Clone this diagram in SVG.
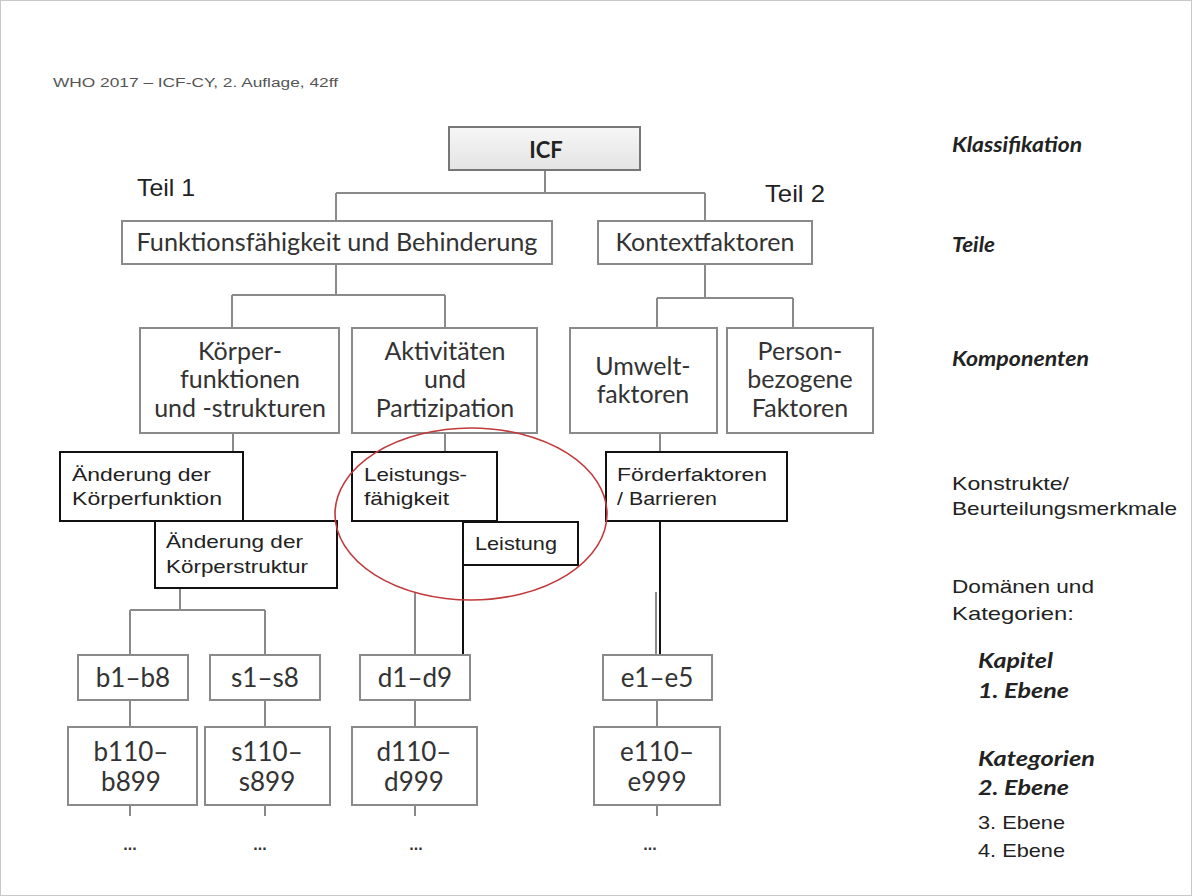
<svg xmlns="http://www.w3.org/2000/svg" width="1192" height="896" viewBox="0 0 1192 896">
  <defs>
    <linearGradient id="icfFill" x1="0" y1="0" x2="0" y2="1">
      <stop offset="0" stop-color="#f6f6f6"/>
      <stop offset="1" stop-color="#e4e4e4"/>
    </linearGradient>
    <style>
      .box { fill: #ffffff; stroke: #8a8a8a; stroke-width: 2; }
      .cbox { fill: #ffffff; stroke: #111111; stroke-width: 2; }
      .line { fill: none; stroke: #8a8a8a; stroke-width: 2; }
      .bline { fill: none; stroke: #111111; stroke-width: 2; }
      .lbl { font-family: Lato, "Open Sans", sans-serif; font-size: 25px; fill: #333333; text-anchor: middle; }
      .code { font-family: Lato, "Open Sans", sans-serif; font-size: 26px; fill: #333333; text-anchor: middle; }
      .ar { font-family: "Liberation Sans", Arial, sans-serif; font-size: 19px; fill: #222222; }
      .side { font-family: Lato, "Open Sans", sans-serif; font-size: 20px; font-weight: bold; font-style: italic; fill: #222222; }
      .teil { font-family: "Liberation Sans", Arial, sans-serif; font-size: 24px; fill: #222222; }
      .dots { font-family: "Liberation Sans", Arial, sans-serif; font-size: 16px; font-weight: bold; fill: #333333; text-anchor: middle; }
    </style>
  </defs>

  <rect x="0" y="0" width="1192" height="896" fill="#ffffff"/>
  <rect x="0.5" y="0.5" width="1191" height="895" fill="none" stroke="#c8c8c8" stroke-width="1"/>

  <text x="53" y="87" font-family="Liberation Sans, Arial, sans-serif" font-size="12" fill="#555555" textLength="285" lengthAdjust="spacingAndGlyphs">WHO 2017 – ICF-CY, 2. Auflage, 42ff</text>

  <!-- connectors -->
  <g id="connectors">
    <path class="line" d="M545 170 V193 M336 193 H705 M336 193 V221 M705 193 V221"/>
    <path class="line" d="M336 264 V295 M232 295 H445 M232 295 V328 M445 295 V328"/>
    <path class="line" d="M705 264 V298 M657 298 H793 M657 298 V328 M793 298 V328"/>
    <path class="line" d="M233 433 V452 M445 433 V452 M660 433 V452"/>
    <path class="line" d="M180 588 V610 M130 610 H265 M130 610 V655 M265 610 V655"/>
    <path class="line" d="M415 592 V655 M656 592 V655"/>
    <path class="bline" d="M463 521 V655 M660 521 V655"/>
    <path class="line" d="M130 700 V727 M265 700 V727 M415 700 V727 M657 700 V727"/>
    <path class="line" d="M130 805 V816 M265 805 V816 M415 805 V816 M657 805 V816"/>
  </g>

  <!-- classification -->
  <g id="icf">
    <rect x="449" y="127" width="191" height="43" fill="url(#icfFill)" stroke="#777777" stroke-width="2"/>
    <text x="546" y="158" font-family="Lato, 'Open Sans', sans-serif" font-size="22" font-weight="bold" fill="#222222" text-anchor="middle">ICF</text>
  </g>

  <text class="teil" x="137" y="196" textLength="58" lengthAdjust="spacingAndGlyphs">Teil 1</text>
  <text class="teil" x="765" y="202" textLength="60" lengthAdjust="spacingAndGlyphs">Teil 2</text>

  <!-- parts -->
  <g id="funktionsfaehigkeit">
    <rect class="box" x="122" y="221" width="430" height="43"/>
    <text class="lbl" x="337" y="251" textLength="401" lengthAdjust="spacingAndGlyphs">Funktionsfähigkeit und Behinderung</text>
  </g>
  <g id="kontextfaktoren">
    <rect class="box" x="598" y="221" width="214" height="43"/>
    <text class="lbl" x="705" y="251">Kontextfaktoren</text>
  </g>

  <!-- components -->
  <g id="koerper">
    <rect class="box" x="140" y="328" width="199" height="105"/>
    <text class="lbl" x="240" y="360">Körper-</text>
    <text class="lbl" x="240" y="388">funktionen</text>
    <text class="lbl" x="240" y="417">und -strukturen</text>
  </g>
  <g id="aktivitaeten">
    <rect class="box" x="352" y="328" width="185" height="105"/>
    <text class="lbl" x="445" y="360">Aktivitäten</text>
    <text class="lbl" x="445" y="388">und</text>
    <text class="lbl" x="445" y="417">Partizipation</text>
  </g>
  <g id="umwelt">
    <rect class="box" x="570" y="328" width="147" height="105"/>
    <text class="lbl" x="643" y="375">Umwelt-</text>
    <text class="lbl" x="643" y="403">faktoren</text>
  </g>
  <g id="person">
    <rect class="box" x="727" y="328" width="146" height="105"/>
    <text class="lbl" x="800" y="360">Person-</text>
    <text class="lbl" x="800" y="388">bezogene</text>
    <text class="lbl" x="800" y="417">Faktoren</text>
  </g>

  <!-- constructs -->
  <g id="aenderung-funktion">
    <rect class="cbox" x="60" y="452" width="183" height="69"/>
    <text class="ar" x="72" y="481" textLength="139" lengthAdjust="spacingAndGlyphs">Änderung der</text>
    <text class="ar" x="72" y="505" textLength="150" lengthAdjust="spacingAndGlyphs">Körperfunktion</text>
  </g>
  <g id="aenderung-struktur">
    <rect class="cbox" x="155" y="521" width="182" height="67"/>
    <text class="ar" x="166" y="548" textLength="137" lengthAdjust="spacingAndGlyphs">Änderung der</text>
    <text class="ar" x="166" y="573" textLength="142" lengthAdjust="spacingAndGlyphs">Körperstruktur</text>
  </g>
  <g id="leistungsfaehigkeit">
    <rect class="cbox" x="352" y="452" width="145" height="69"/>
    <text class="ar" x="364" y="481" textLength="103" lengthAdjust="spacingAndGlyphs">Leistungs-</text>
    <text class="ar" x="364" y="505" textLength="85" lengthAdjust="spacingAndGlyphs">fähigkeit</text>
  </g>
  <g id="leistung">
    <rect class="cbox" x="463" y="522" width="115" height="43"/>
    <text class="ar" x="475" y="550" textLength="82" lengthAdjust="spacingAndGlyphs">Leistung</text>
  </g>
  <g id="foerderfaktoren">
    <rect class="cbox" x="606" y="452" width="181" height="69"/>
    <text class="ar" x="617" y="481" textLength="150" lengthAdjust="spacingAndGlyphs">Förderfaktoren</text>
    <text class="ar" x="617" y="505" textLength="100" lengthAdjust="spacingAndGlyphs">/ Barrieren</text>
  </g>

  <ellipse cx="471" cy="514" rx="136" ry="86" fill="none" stroke="#c0393b" stroke-width="1.6"/>

  <!-- chapters -->
  <g id="b1-b8">
    <rect class="box" x="78" y="655" width="110" height="45"/>
    <text class="code" x="133" y="687">b1–b8</text>
  </g>
  <g id="s1-s8">
    <rect class="box" x="210" y="655" width="110" height="45"/>
    <text class="code" x="265" y="687">s1–s8</text>
  </g>
  <g id="d1-d9">
    <rect class="box" x="360" y="655" width="110" height="45"/>
    <text class="code" x="415" y="687">d1–d9</text>
  </g>
  <g id="e1-e5">
    <rect class="box" x="603" y="655" width="109" height="45"/>
    <text class="code" x="657" y="687">e1–e5</text>
  </g>

  <!-- second-level categories -->
  <g id="b110-b899">
    <rect class="box" x="68" y="727" width="129" height="78"/>
    <text class="code" x="131" y="761">b110–</text>
    <text class="code" x="131" y="791">b899</text>
  </g>
  <g id="s110-s899">
    <rect class="box" x="205" y="727" width="125" height="78"/>
    <text class="code" x="267" y="761">s110–</text>
    <text class="code" x="267" y="791">s899</text>
  </g>
  <g id="d110-d999">
    <rect class="box" x="352" y="727" width="125" height="78"/>
    <text class="code" x="414" y="761">d110–</text>
    <text class="code" x="414" y="791">d999</text>
  </g>
  <g id="e110-e999">
    <rect class="box" x="594" y="727" width="126" height="78"/>
    <text class="code" x="657" y="761">e110–</text>
    <text class="code" x="657" y="791">e999</text>
  </g>

  <text class="dots" x="130" y="850">...</text>
  <text class="dots" x="260" y="850">...</text>
  <text class="dots" x="416" y="850">...</text>
  <text class="dots" x="650" y="850">...</text>

  <!-- level legend -->
  <text class="side" x="952" y="152" textLength="130" lengthAdjust="spacingAndGlyphs">Klassifikation</text>
  <text class="side" x="952" y="252" textLength="43" lengthAdjust="spacingAndGlyphs">Teile</text>
  <text class="side" x="952" y="366" textLength="137" lengthAdjust="spacingAndGlyphs">Komponenten</text>
  <text class="ar" x="952" y="490" textLength="117" lengthAdjust="spacingAndGlyphs">Konstrukte/</text>
  <text class="ar" x="952" y="515" textLength="225" lengthAdjust="spacingAndGlyphs">Beurteilungsmerkmale</text>
  <text class="ar" x="952" y="593" textLength="142" lengthAdjust="spacingAndGlyphs">Domänen und</text>
  <text class="ar" x="952" y="620" textLength="122" lengthAdjust="spacingAndGlyphs">Kategorien:</text>
  <text class="side" x="978" y="668" font-size="21" textLength="75" lengthAdjust="spacingAndGlyphs">Kapitel</text>
  <text class="side" x="978" y="698" font-size="21" textLength="91" lengthAdjust="spacingAndGlyphs">1. Ebene</text>
  <text class="side" x="978" y="766" font-size="21" textLength="117" lengthAdjust="spacingAndGlyphs">Kategorien</text>
  <text class="side" x="978" y="795" font-size="21" textLength="91" lengthAdjust="spacingAndGlyphs">2. Ebene</text>
  <text class="ar" x="978" y="829" textLength="87" lengthAdjust="spacingAndGlyphs">3. Ebene</text>
  <text class="ar" x="978" y="857" textLength="87" lengthAdjust="spacingAndGlyphs">4. Ebene</text>
</svg>
